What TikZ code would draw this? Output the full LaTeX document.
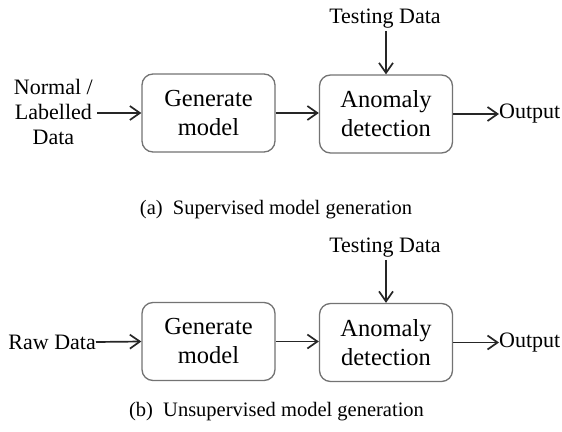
\documentclass[tikz,border=0pt]{standalone}
\usepackage{fontspec}
\setmainfont{Liberation Serif}
\usetikzlibrary{arrows.meta}
\begin{document}
\begin{tikzpicture}[x=1pt,y=-1pt,
  procbox/.style={draw=black!55, line width=1.3pt, rounded corners=11pt, fill=white,
    minimum width=133pt, minimum height=78pt, align=center, inner sep=0pt,
    font=\fontsize{24.5}{29}\selectfont},
  lbl/.style={font=\fontsize{22}{25}\selectfont, inner sep=0pt, align=center},
  captext/.style={font=\fontsize{20.5}{24}\selectfont, inner sep=0pt},
  flow/.style={line width=1.7pt, black!85, -{Straight Barb[length=10pt,width=14pt,line width=1.7pt]}}]
\useasboundingbox (0,0) rectangle (562,431);

% (a) supervised
\node[procbox] (genA) at (208.5,113) {Generate\\model};
\node[procbox] (detA) at (386,114) {Anomaly\\detection};
\node[lbl, anchor=east] (inA) at (93,112) {Normal /\\Labelled\\Data};
\node[lbl] (testA) at (385,19) {Testing Data};
\node[lbl, anchor=west] (outA) at (499,114) {Output};
\draw[flow] (inA.east) ++(4,1) -- (genA.west);
\draw[flow] (genA.east) -- (genA.east -| detA.west);
\draw[flow] (testA.south -| detA.north) ++(0,2) -- (detA.north);
\draw[flow] (detA.east) -- (outA.west);
\node[captext] (capA) at (276,210) {(a)\ \ Supervised model generation};

% (b) unsupervised
\node[procbox] (genB) at (208.5,341.5) {Generate\\model};
\node[procbox] (detB) at (386,342.5) {Anomaly\\detection};
\node[lbl, anchor=east] (inB) at (96,342) {Raw Data};
\node[lbl] (testB) at (385,248) {Testing Data};
\node[lbl, anchor=west] (outB) at (499,342.5) {Output};
\draw[flow] (inB.east) -- (genB.west);
\draw[flow] (genB.east) -- (genB.east -| detB.west);
\draw[flow] (testB.south -| detB.north) ++(0,2) -- (detB.north);
\draw[flow] (detB.east) -- (outB.west);
\node[captext] (capB) at (276.5,412) {(b)\ \ Unsupervised model generation};
\end{tikzpicture}
\end{document}
